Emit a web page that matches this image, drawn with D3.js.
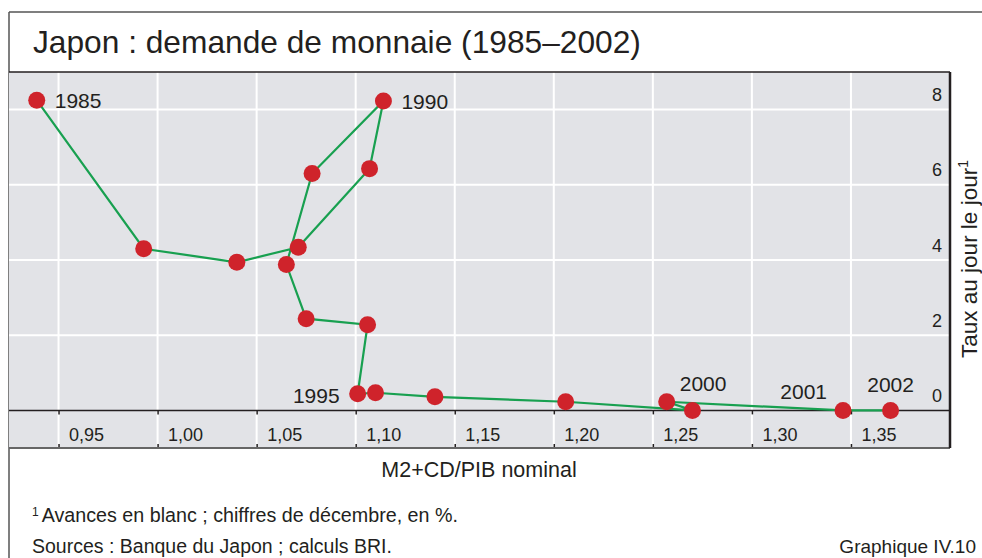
<!DOCTYPE html>
<html>
<head>
<meta charset="utf-8">
<script src="https://cdn.jsdelivr.net/npm/d3@7"></script>
<style>
  body { margin: 0; background: #fff; }
  svg text { font-family: "Liberation Sans", Arial, sans-serif; fill: #231f20; }
</style>
</head>
<body>
<svg id="chart" width="982" height="558"></svg>
<script>
// data
var years = [1985, 1986, 1987, 1988, 1989, 1990, 1991, 1992, 1993, 1994, 1995, 1996, 1997, 1998, 1999, 2000, 2001, 2002];
var m2Ratio = [0.939, 0.993, 1.040, 1.071, 1.107, 1.114, 1.078, 1.065, 1.075, 1.106, 1.101, 1.110, 1.140, 1.206, 1.270, 1.257, 1.346, 1.370];
var callRate = [8.25, 4.30, 3.94, 4.34, 6.43, 8.23, 6.30, 3.88, 2.44, 2.28, 0.44, 0.47, 0.36, 0.23, 0.00, 0.23, 0.00, 0.00];
var xTicks = [0.95, 1.00, 1.05, 1.10, 1.15, 1.20, 1.25, 1.30, 1.35];
var yTicks = [0, 2, 4, 6, 8];
var labelledYears = [1985, 1990, 1995, 2000, 2001, 2002];

var svg = d3.select('#chart');
var plotL = 9, plotR = 950, plotT = 72, plotB = 448;

var fr = d3.formatLocale({decimal: ",", thousands: " ", grouping: [3], currency: ["", ""]});
var fmt = fr.format(".2f");

var x = d3.scaleLinear().domain([0.925, 1.40]).range([plotL, plotR]);
var y = d3.scaleLinear().domain([-1, 9]).range([plotB, plotT]);

// outer frame
svg.append("line").attr("x1", plotL).attr("x2", 982).attr("y1", 12).attr("y2", 12)
    .style("stroke", "#555").style("stroke-width", 1.5);
svg.append("line").attr("x1", plotL).attr("x2", plotL).attr("y1", 12).attr("y2", 558)
    .style("stroke", "#555").style("stroke-width", 1.5);

svg.append("text")
    .attr("x", 33).attr("y", 53)
    .attr("font-size", 31.7)
    .text("Japon : demande de monnaie (1985\u20132002)");

// plot area
svg.append("rect")
    .attr("x", plotL).attr("y", plotT)
    .attr("width", plotR - plotL).attr("height", plotB - plotT)
    .attr("fill", "#e2e3e7");

// grid
svg.append("g").selectAll("line")
    .data(xTicks).enter().append("line")
    .attr("x1", function(d) { return x(d); }).attr("x2", function(d) { return x(d); })
    .attr("y1", plotT).attr("y2", plotB)
    .style("stroke", "#fff").style("stroke-width", 2);

svg.append("g").selectAll("line")
    .data(yTicks.filter(function(d) { return d != 0; })).enter().append("line")
    .attr("x1", plotL).attr("x2", plotR)
    .attr("y1", function(d) { return y(d); }).attr("y2", function(d) { return y(d); })
    .style("stroke", "#fff").style("stroke-width", 2);

// zero line, small ticks on it and at the bottom
svg.append("line").attr("x1", plotL).attr("x2", plotR).attr("y1", y(0)).attr("y2", y(0))
    .style("stroke", "#231f20").style("stroke-width", 1.5);

var xAxisTop = svg.append("g")
    .attr("transform", "translate(0," + y(0) + ")")
    .call(d3.axisBottom(x).tickValues(xTicks).tickSize(4).tickFormat(""));
xAxisTop.select(".domain").remove();
xAxisTop.selectAll(".tick line").style("stroke", "#231f20").style("stroke-width", 1.5);

var xAxis = svg.append("g")
    .attr("transform", "translate(0," + plotB + ")")
    .call(d3.axisTop(x).tickValues(xTicks).tickSize(4).tickFormat(fmt));
xAxis.select(".domain").remove();
xAxis.selectAll(".tick line").style("stroke", "#231f20").style("stroke-width", 1.5);
xAxis.selectAll(".tick text")
    .attr("x", 10).attr("y", -7).attr("dy", null)
    .attr("text-anchor", "start")
    .attr("font-size", 18)
    .attr("font-family", null);

var yAxis = svg.append("g")
    .attr("transform", "translate(" + 942 + ",0)")
    .call(d3.axisLeft(y).tickValues(yTicks).tickSize(0).tickFormat(d3.format("d")));
yAxis.select(".domain").remove();
yAxis.selectAll(".tick text")
    .attr("x", 0).attr("y", -9).attr("dy", null)
    .attr("text-anchor", "end")
    .attr("font-size", 18)
    .attr("font-family", null);

// borders of the plot
svg.append("line").attr("x1", plotL).attr("x2", plotR).attr("y1", plotT).attr("y2", plotT)
    .style("stroke", "#231f20").style("stroke-width", 1.5);
svg.append("line").attr("x1", plotL).attr("x2", plotR).attr("y1", plotB).attr("y2", plotB)
    .style("stroke", "#666").style("stroke-width", 2);
svg.append("line").attr("x1", plotR).attr("x2", plotR).attr("y1", plotT).attr("y2", plotB)
    .style("stroke", "#231f20").style("stroke-width", 2.5);

// path + points
var pts = years.map(function(yr, i) { return {year: yr, m: m2Ratio[i], r: callRate[i]}; });

svg.append("path")
    .datum(pts)
    .attr("fill", "none")
    .attr("stroke", "#18a050")
    .attr("stroke-width", 2.2)
    .attr("d", d3.line().x(function(d) { return x(d.m); }).y(function(d) { return y(d.r); }));

svg.selectAll("circle.pt")
    .data(pts).enter().append("circle")
    .attr("class", "pt")
    .attr("cx", function(d) { return x(d.m); })
    .attr("cy", function(d) { return y(d.r); })
    .attr("r", 8.5)
    .attr("fill", "#cf232b");

// year labels: dx, dy, anchor relative to the point
var labelPos = {
    1985: [18, 8, "start"],
    1990: [18, 8, "start"],
    1995: [-18, 9, "end"],
    2000: [13, -11, "start"],
    2001: [-16, -11, "end"],
    2002: [0, -18, "middle"]
};
svg.selectAll("text.yr")
    .data(pts.filter(function(d) { return labelledYears.indexOf(d.year) >= 0; }))
    .enter().append("text")
    .attr("class", "yr")
    .attr("x", function(d) { return x(d.m) + labelPos[d.year][0]; })
    .attr("y", function(d) { return y(d.r) + labelPos[d.year][1]; })
    .attr("text-anchor", function(d) { return labelPos[d.year][2]; })
    .attr("font-size", 21)
    .text(function(d) { return d.year; });

// axis titles
svg.append("text")
    .attr("x", 479).attr("y", 477)
    .attr("text-anchor", "middle")
    .attr("font-size", 21.5)
    .text("M2+CD/PIB nominal");

var yt = svg.append("text")
    .attr("transform", "translate(977,259) rotate(-90)")
    .attr("text-anchor", "middle")
    .attr("font-size", 22.5);
yt.append("tspan").text("Taux au jour le jour");
yt.append("tspan").attr("font-size", 14).attr("dy", -9).text("1");

// notes
var note = svg.append("text").attr("x", 32).attr("y", 522).attr("font-size", 19.7);
note.append("tspan").attr("font-size", 12).attr("dy", -6).text("1");
note.append("tspan").attr("dy", 6).attr("dx", 3).text("Avances en blanc ; chiffres de décembre, en %.");

svg.append("text").attr("x", 32).attr("y", 553).attr("font-size", 19.5)
    .text("Sources : Banque du Japon ; calculs BRI.");
svg.append("text").attr("x", 976).attr("y", 553).attr("font-size", 19)
    .attr("text-anchor", "end")
    .text("Graphique IV.10");
</script>
</body>
</html>
